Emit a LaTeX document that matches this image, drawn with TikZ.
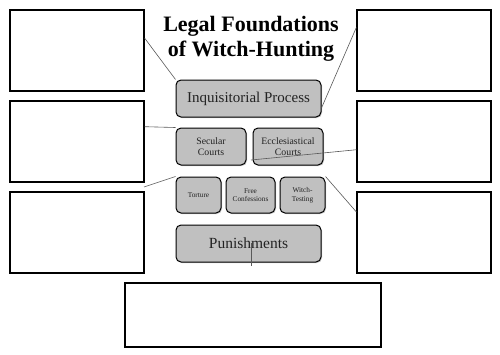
\documentclass[tikz,border=0pt]{standalone}
\usepackage{fontspec}
\setmainfont{Liberation Serif}
\usetikzlibrary{calc,shadows}
\definecolor{boxgray}{HTML}{C0C0C0}
\definecolor{txtgray}{HTML}{222222}
\tikzset{
  blank/.style={draw=black, line width=1.3pt, fill=white, minimum width=134pt, minimum height=81pt, inner sep=0pt,
    drop shadow={shadow xshift=0.8pt, shadow yshift=-0.8pt, opacity=0.35}},
  topic/.style={draw=black, line width=1pt, fill=boxgray, rounded corners=5pt, inner sep=1pt, align=center,
    text=txtgray, drop shadow={shadow xshift=1pt, shadow yshift=-1pt, opacity=0.4}},
  link/.style={draw=black!65, line width=0.6pt}
}
\begin{document}
\begin{tikzpicture}[x=1pt,y=-1pt]
\useasboundingbox (0,0) rectangle (500,354);
\fill[white] (0,0) rectangle (500,354);
% blank boxes
\node[blank] (L1) at (77,50.5) {};
\node[blank] (L2) at (77,141.5) {};
\node[blank] (L3) at (77,232.5) {};
\node[blank] (R1) at (424,50.5) {};
\node[blank] (R2) at (424,141.5) {};
\node[blank] (R3) at (424,232.5) {};
\node[blank, minimum width=256pt, minimum height=64pt] (B) at (253,315) {};
% title
\node[font=\bfseries\fontsize{22}{25}\selectfont, align=center] (T) at (251,38.5) {Legal Foundations\\of Witch-Hunting};
% topics
\node[topic, minimum width=145pt, minimum height=37pt, font=\fontsize{15}{16}\selectfont] (Inq) at (248.5,98.5) {Inquisitorial Process};
\node[topic, minimum width=70pt, minimum height=37pt, font=\fontsize{9.8}{11}\selectfont] (Sec) at (211,146.5) {Secular\\Courts};
\node[topic, minimum width=70pt, minimum height=37pt, font=\fontsize{9.8}{11}\selectfont] (Ecc) at (288,146.5) {Ecclesiastical\\Courts};
\node[topic, minimum width=45pt, minimum height=36pt, font=\fontsize{7.3}{8.5}\selectfont] (Tor) at (198.5,195) {Torture};
\node[topic, minimum width=49pt, minimum height=36pt, font=\fontsize{7.3}{8.5}\selectfont] (Fre) at (250.5,195) {Free\\Confessions};
\node[topic, minimum width=45pt, minimum height=36pt, font=\fontsize{7.3}{8.5}\selectfont] (Wit) at (302.5,195) {Witch-\\Testing};
\node[topic, minimum width=145pt, minimum height=37pt, font=\fontsize{15.5}{17}\selectfont] (Pun) at (248.5,243.5) {Punishments};
% connector ends
\coordinate (c4) at (251,160);
\coordinate (c5) at (144,187);
\coordinate (c7a) at (251,243);
\coordinate (c7b) at (251,266);
% connectors
\draw[link] ($(L1.north east)!0.35!(L1.south east)$) -- (Inq.north west);
\draw[link] ($(R1.north west)!0.22!(R1.south west)$) -- ($(Inq.north east)!0.75!(Inq.south east)$);
\draw[link] ($(L2.north east)!0.32!(L2.south east)$) -- (Sec.north west);
\draw[link] ($(R2.north west)!0.6!(R2.south west)$) -- (c4);
\draw[link] (c5) -- (Tor.north west);
\draw[link] ($(R3.north west)!0.25!(R3.south west)$) -- (Wit.north east);
\draw[link] (c7a) -- (c7b);
\end{tikzpicture}
\end{document}
